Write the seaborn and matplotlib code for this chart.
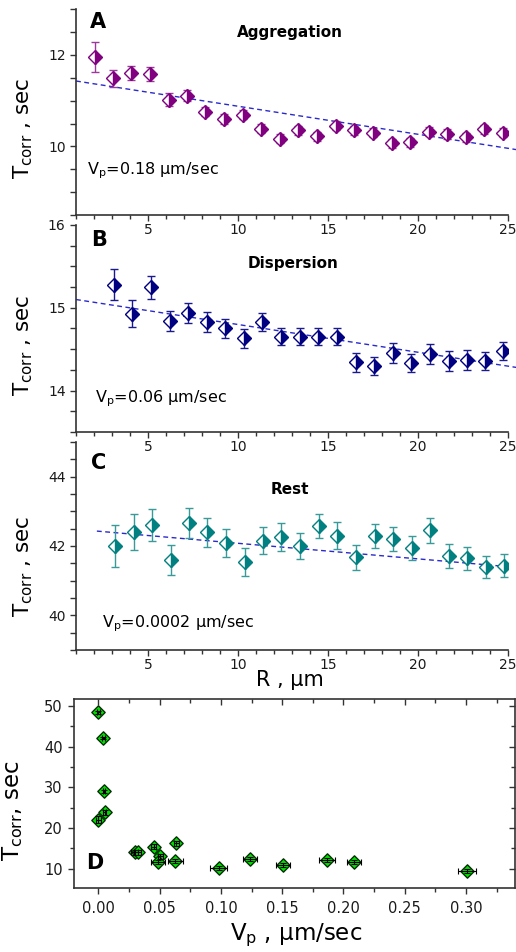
import matplotlib
matplotlib.use('Agg')
import matplotlib.pyplot as plt
from matplotlib.ticker import MultipleLocator
import seaborn as sns

sns.set_theme(style='ticks')
plt.rcParams['font.family'] = ['DejaVu Sans']
plt.rcParams['mathtext.fontset'] = 'dejavusans'
plt.rcParams['text.color'] = 'black'
plt.rcParams['axes.labelcolor'] = 'black'

# ---------------- data ----------------
R_A = [2.03, 3.05, 4.07, 5.11, 6.15, 7.17, 8.19, 9.21, 10.26, 11.28, 12.32, 13.36,
       14.40, 15.44, 16.47, 17.49, 18.53, 19.55, 20.59, 21.63, 22.65, 23.67, 24.70]
T_A = [11.96, 11.49, 11.60, 11.58, 11.02, 11.11, 10.76, 10.60, 10.69, 10.39, 10.17, 10.35,
       10.22, 10.45, 10.35, 10.30, 10.07, 10.09, 10.32, 10.27, 10.20, 10.37, 10.30]
E_A = [0.33, 0.19, 0.15, 0.15, 0.14, 0.12, 0.10, 0.10, 0.10, 0.10, 0.10, 0.10,
       0.10, 0.10, 0.10, 0.10, 0.10, 0.10, 0.10, 0.10, 0.10, 0.10, 0.10]
FIT_A_R = [1.0, 25.46]
FIT_A_T = [11.43, 9.93]

R_B = [3.09, 4.13, 5.17, 6.20, 7.22, 8.28, 9.30, 10.34, 11.36, 12.40, 13.43,
       14.47, 15.51, 16.55, 17.55, 18.59, 19.62, 20.66, 21.70, 22.70, 23.74, 24.74]
T_B = [15.28, 14.93, 15.25, 14.84, 14.94, 14.83, 14.75, 14.63, 14.83, 14.65, 14.65,
       14.65, 14.65, 14.34, 14.30, 14.45, 14.33, 14.44, 14.36, 14.37, 14.36, 14.48]
E_B = [0.19, 0.16, 0.14, 0.12, 0.12, 0.12, 0.11, 0.11, 0.11, 0.10, 0.10,
       0.10, 0.10, 0.12, 0.11, 0.12, 0.11, 0.12, 0.12, 0.12, 0.11, 0.11]
FIT_B_R = [1.0, 25.46]
FIT_B_T = [15.10, 14.28]

R_C = [3.15, 4.20, 5.22, 6.28, 7.28, 8.30, 9.34, 10.38, 11.38, 12.41, 13.45,
       14.49, 15.51, 16.55, 17.59, 18.62, 19.66, 20.68, 21.72, 22.72, 23.76, 24.76]
T_C = [42.00, 42.41, 42.61, 41.60, 42.66, 42.39, 42.08, 41.53, 42.15, 42.27, 42.00,
       42.58, 42.29, 41.67, 42.29, 42.20, 41.94, 42.46, 41.71, 41.64, 41.40, 41.43]
E_C = [0.60, 0.52, 0.47, 0.43, 0.43, 0.41, 0.41, 0.40, 0.39, 0.40, 0.38,
       0.35, 0.39, 0.36, 0.35, 0.35, 0.35, 0.36, 0.34, 0.34, 0.32, 0.33]
FIT_C_R = [2.16, 25.09]
FIT_C_T = [42.43, 41.40]

V_D = [0.000, 0.004, 0.0046, 0.0049, 0.000, 0.0295, 0.032, 0.045, 0.0505, 0.0485,
       0.0635, 0.0627, 0.098, 0.1235, 0.1505, 0.1863, 0.2086, 0.3008]
T_D = [48.4, 42.05, 29.0, 23.9, 22.05, 14.0, 14.0, 15.4, 13.1, 11.6,
       16.2, 11.8, 10.2, 12.5, 10.85, 12.05, 11.6, 9.5]
XE_D = [0.001, 0.001, 0.001, 0.0015, 0.002, 0.003, 0.003, 0.002, 0.002, 0.0055,
        0.002, 0.006, 0.007, 0.0055, 0.0055, 0.0065, 0.006, 0.007]
YE_D = [0.3, 0.3, 0.3, 0.6, 0.8, 0.6, 0.6, 0.6, 0.6, 0.5,
        0.6, 0.5, 0.5, 0.5, 0.5, 0.5, 0.5, 0.5]

X_TICKS_R = [5, 10, 15, 20, 25]

# ---------------- figure ----------------
fig = plt.figure(figsize=(5.16, 9.52), dpi=100)
SPINE = '#333333'
FIT_COLOR = '#2a2acc'


def make_panel(rect, R, T, E, col, ecol, fitR, fitT, ylim, major, minor,
               letter, title, vp, title_pos, vp_pos, letter_pos, ylabel_y):
    ax = fig.add_axes(rect)
    ax.patch.set_alpha(0)
    ax.errorbar(R, T, yerr=E, fmt='D', ms=7, mfc=col, mfcalt='white',
                fillstyle='right', mec=col, mew=1.0, ecolor=ecol,
                elinewidth=1.0, capsize=3, capthick=1.0, zorder=3)
    sns.lineplot(x=fitR, y=fitT, ax=ax, color=FIT_COLOR, lw=1.0,
                 linestyle=(0, (3.5, 2.5)), zorder=2, legend=False)
    ax.lines[-1].set_clip_on(False)
    ax.set_xlim(1, 25)
    ax.set_ylim(*ylim)
    ax.set_xticks(X_TICKS_R)
    ax.xaxis.set_minor_locator(MultipleLocator(1))
    ax.yaxis.set_major_locator(MultipleLocator(major))
    ax.yaxis.set_minor_locator(MultipleLocator(minor))
    sns.despine(ax=ax)
    for s in ('left', 'bottom'):
        ax.spines[s].set_color(SPINE)
        ax.spines[s].set_linewidth(1.2)
    ax.tick_params(which='both', direction='out', length=4.5, width=1.0,
                   color=SPINE, labelsize=10, labelcolor='#1a1a1a')
    ax.tick_params(axis='x', which='major', pad=1)
    ax.tick_params(axis='x', which='minor', length=3)
    ax.tick_params(axis='y', pad=3)
    ax.set_ylabel(r'T$_{\mathrm{corr}}$ , sec', fontsize=15.5, color='black')
    ax.yaxis.set_label_coords(-0.095, ylabel_y)
    ax.set_xlabel('')
    ax.text(letter_pos[0], letter_pos[1], letter, transform=ax.transAxes,
            fontsize=15, fontweight='bold', ha='left', va='center', color='black')
    ax.text(title_pos[0], title_pos[1], title, transform=ax.transAxes,
            fontsize=11, fontweight='bold', ha='center', va='center', color='black')
    ax.text(vp_pos[0], vp_pos[1], vp, transform=ax.transAxes,
            fontsize=11.5, ha='left', va='center', color='black')
    return ax


axA = make_panel([0.14729, 0.77416, 0.83721, 0.21618], R_A, T_A, E_A,
                 '#800080', '#9a3a9a', FIT_A_R, FIT_A_T, (8.5, 13), 2, 0.5,
                 'A', 'Aggregation', r'V$_{\mathrm{p}}$=0.18 μm/sec',
                 (0.495, 0.888), (0.025, 0.215), (0.032, 0.937), 0.42)
axB = make_panel([0.14729, 0.54622, 0.83721, 0.21744], R_B, T_B, E_B,
                 '#000080', '#1a1a8a', FIT_B_R, FIT_B_T, (13.5, 16), 1, 0.25,
                 'B', 'Dispersion', r'V$_{\mathrm{p}}$=0.06 μm/sec',
                 (0.502, 0.816), (0.044, 0.16), (0.036, 0.928), 0.42)
axC = make_panel([0.14729, 0.31723, 0.83721, 0.21849], R_C, T_C, E_C,
                 '#008080', '#3a9a9a', FIT_C_R, FIT_C_T, (39, 45), 2, 0.5,
                 'C', 'Rest', r'V$_{\mathrm{p}}$=0.0002 μm/sec',
                 (0.495, 0.77), (0.06, 0.125), (0.035, 0.90), 0.40)
axC.set_xlabel('R , μm', fontsize=15, color='black')
axC.xaxis.set_label_coords(0.495, -0.095)
axC.xaxis.label.set_va('top')

# ---------------- panel D ----------------
axD = fig.add_axes([0.14341, 0.06691, 0.85465, 0.19853])
axD.patch.set_alpha(0)
sns.scatterplot(x=V_D, y=T_D, ax=axD, marker='D', s=46, color='#00e000',
                edgecolor='#0b2e0b', linewidth=1.0, zorder=2, legend=False)
axD.errorbar(V_D, T_D, xerr=XE_D, yerr=YE_D, fmt='none', ecolor='black',
             elinewidth=0.8, capsize=2, capthick=0.8, zorder=3)
axD.set_xlim(-0.02, 0.34)
axD.set_ylim(5.2, 51.6)
axD.xaxis.set_major_locator(MultipleLocator(0.05))
axD.xaxis.set_minor_locator(MultipleLocator(0.025))
axD.yaxis.set_major_locator(MultipleLocator(10))
axD.yaxis.set_minor_locator(MultipleLocator(5))
axD.xaxis.set_major_formatter(matplotlib.ticker.FormatStrFormatter('%.2f'))
for s in axD.spines.values():
    s.set_color(SPINE)
    s.set_linewidth(1.2)
axD.tick_params(which='both', direction='out', width=1.0, color=SPINE,
                labelsize=10.5, labelcolor='#1a1a1a')
axD.tick_params(which='major', length=4.5)
axD.tick_params(which='minor', length=3)
axD.tick_params(axis='x', pad=5)
secx = axD.secondary_xaxis('top')
secx.xaxis.set_major_locator(MultipleLocator(0.05))
secx.xaxis.set_minor_locator(MultipleLocator(0.025))
secx.tick_params(which='both', direction='in', labeltop=False, color=SPINE, width=1.0)
secx.tick_params(which='major', length=4.5)
secx.tick_params(which='minor', length=3)
secx.spines['top'].set_visible(False)
secy = axD.secondary_yaxis('right')
secy.yaxis.set_major_locator(MultipleLocator(10))
secy.yaxis.set_minor_locator(MultipleLocator(5))
secy.tick_params(which='both', direction='in', labelright=False, color=SPINE, width=1.0)
secy.tick_params(which='major', length=4.5)
secy.tick_params(which='minor', length=3)
secy.spines['right'].set_visible(False)
axD.set_ylabel(r'T$_{\mathrm{corr}}$, sec', fontsize=16.5, color='black')
axD.yaxis.set_label_coords(-0.11, 0.41)
axD.set_xlabel(r'V$_{\mathrm{p}}$ , μm/sec', fontsize=16.5, color='black')
axD.xaxis.set_label_coords(0.503, -0.175)
axD.xaxis.label.set_va('top')
axD.text(0.027, 0.135, 'D', transform=axD.transAxes, fontsize=15,
         fontweight='bold', ha='left', va='center', color='black')

fig.savefig('out.png', dpi=100)
